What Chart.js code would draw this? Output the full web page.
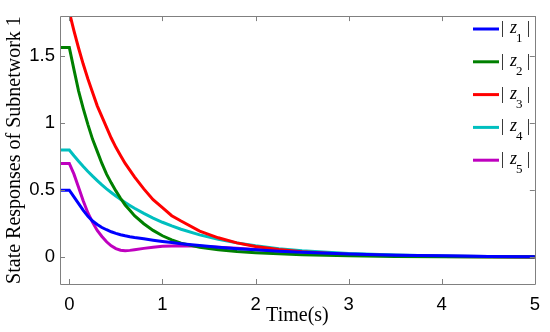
<!DOCTYPE html>
<html><head><meta charset="utf-8">
<style>html,body{margin:0;padding:0;background:#fff;}</style>
<script src="https://cdn.jsdelivr.net/npm/chart.js@4/dist/chart.umd.min.js"></script>
</head><body>
<canvas id="c" width="550" height="332"></canvas>
<script>
const times = [-0.1, 0, 0.05, 0.1, 0.15, 0.2, 0.25, 0.3, 0.35, 0.4, 0.45, 0.5, 0.55, 0.6, 0.65, 0.7, 0.8, 0.9, 1.0, 1.1, 1.2, 1.4, 1.6, 1.8, 2.0, 2.25, 2.5, 3, 3.5, 4, 4.5, 5];
const z1 = [0.5, 0.5, 0.45, 0.40, 0.35, 0.305, 0.27, 0.245, 0.222, 0.205, 0.19, 0.178, 0.168, 0.16, 0.153, 0.147, 0.137, 0.127, 0.118, 0.109, 0.101, 0.087, 0.075, 0.064, 0.055, 0.045, 0.037, 0.024, 0.015, 0.01, 0.006, 0.004];
const z2 = [1.566, 1.566, 1.40, 1.24, 1.11, 0.99, 0.88, 0.79, 0.70, 0.62, 0.555, 0.495, 0.44, 0.39, 0.35, 0.31, 0.25, 0.20, 0.16, 0.13, 0.105, 0.075, 0.055, 0.042, 0.033, 0.025, 0.018, 0.01, 0.006, 0.003, 0.002, 0.001];
const z3 = [1.83, 1.83, 1.69, 1.56, 1.44, 1.33, 1.23, 1.13, 1.05, 0.97, 0.89, 0.82, 0.76, 0.70, 0.65, 0.60, 0.51, 0.43, 0.37, 0.31, 0.27, 0.195, 0.145, 0.107, 0.08, 0.057, 0.04, 0.021, 0.011, 0.006, 0.003, 0.002];
const z4 = [0.8, 0.8, 0.757, 0.716, 0.677, 0.64, 0.605, 0.572, 0.54, 0.51, 0.483, 0.457, 0.432, 0.408, 0.386, 0.365, 0.327, 0.292, 0.261, 0.234, 0.209, 0.167, 0.134, 0.107, 0.085, 0.064, 0.049, 0.028, 0.016, 0.009, 0.005, 0.003];
const z5 = [0.7, 0.7, 0.62, 0.52, 0.42, 0.33, 0.26, 0.2, 0.155, 0.115, 0.085, 0.064, 0.052, 0.049, 0.051, 0.056, 0.066, 0.075, 0.081, 0.084, 0.085, 0.082, 0.075, 0.066, 0.057, 0.047, 0.038, 0.024, 0.015, 0.009, 0.005, 0.003];
const seriesSubs = ['1', '2', '3', '4', '5'];
const seriesColors = ['#0000ff', '#008000', '#ff0000', '#00bfbf', '#bf00bf'];
const xTicks = [0, 1, 2, 3, 4, 5];
const yTicks = [0, 0.5, 1, 1.5];
const xTitle = 'Time(s)';
const yTitle = 'State Responses of Subnetwork 1';

const allSeries = [z1, z2, z3, z4, z5];
const datasets = allSeries.map((s, i) => ({
  label: '|z' + seriesSubs[i] + '|',
  data: times.map((t, k) => ({x: t, y: s[k]})),
  borderColor: seriesColors[i],
  backgroundColor: seriesColors[i],
  borderWidth: 3,
  pointRadius: 0,
  tension: 0,
  fill: false
}));

const framePlugin = {
  id: 'frame',
  afterDatasetsDraw(chart) {
    const {ctx, chartArea: a, scales: {x, y}} = chart;
    ctx.save();
    ctx.strokeStyle = '#808080';
    ctx.lineWidth = 1;
    ctx.beginPath();
    ctx.rect(Math.round(a.left) + 0.5, Math.round(a.top) + 0.5, Math.round(a.right - a.left), Math.round(a.bottom - a.top));
    const tl = 5;
    xTicks.forEach(v => {
      const px = Math.round(x.getPixelForValue(v)) + 0.5;
      ctx.moveTo(px, a.bottom); ctx.lineTo(px, a.bottom - tl);
      ctx.moveTo(px, a.top); ctx.lineTo(px, a.top + tl);
    });
    yTicks.forEach(v => {
      const py = Math.round(y.getPixelForValue(v)) + 0.5;
      ctx.moveTo(a.left, py); ctx.lineTo(a.left + tl, py);
      ctx.moveTo(a.right, py); ctx.lineTo(a.right - tl, py);
    });
    ctx.stroke();
    ctx.restore();
  }
};

const legendPlugin = {
  id: 'mlegend',
  afterDraw(chart) {
    const {ctx} = chart;
    ctx.save();
    chart.data.datasets.forEach((ds, i) => {
      const cy = 29 + i * 32.8;
      ctx.strokeStyle = ds.borderColor;
      ctx.lineWidth = 3;
      ctx.beginPath();
      ctx.moveTo(473, cy); ctx.lineTo(499, cy);
      ctx.stroke();
      ctx.fillStyle = '#000';
      ctx.textBaseline = 'alphabetic';
      ctx.textAlign = 'left';
      ctx.font = '16px "Liberation Serif"';
      ctx.fillText('|', 501, cy + 4);
      ctx.fillText('|', 527, cy + 4);
      ctx.font = 'italic 18px "Liberation Serif"';
      ctx.fillText('z', 510, cy + 4);
      ctx.font = '13px "Liberation Serif"';
      ctx.fillText(seriesSubs[i], 516, cy + 13);
    });
    ctx.restore();
  }
};

const tickFont = {family: '"Liberation Sans", Arial, sans-serif', size: 18.5};
const titleFont = {family: '"Liberation Serif", "Times New Roman", serif', size: 20};

new Chart(document.getElementById('c'), {
  type: 'line',
  data: {datasets},
  options: {
    responsive: false,
    animation: false,
    events: [],
    layout: {padding: {top: 7, right: 12, left: 0, bottom: 0}},
    plugins: {legend: {display: false}, tooltip: {enabled: false}},
    scales: {
      x: {
        type: 'linear', min: -0.1, max: 5,
        grid: {display: false, drawTicks: false},
        border: {display: false},
        afterBuildTicks: s => { s.ticks = xTicks.map(v => ({value: v})); },
        afterFit: s => { s.height = 48; },
        ticks: {font: tickFont, color: '#000', padding: 10, maxRotation: 0, callback: v => String(v)},
        title: {display: true, text: xTitle, font: titleFont, color: '#000', padding: {top: 0, bottom: 4}}
      },
      y: {
        type: 'linear', min: -0.2, max: 1.8,
        grid: {display: false, drawTicks: false},
        border: {display: false},
        afterBuildTicks: s => { s.ticks = yTicks.map(v => ({value: v})); },
        afterFit: s => { s.width = 60; },
        ticks: {font: tickFont, color: '#000', padding: 5, callback: v => String(v)},
        title: {display: true, text: yTitle, font: titleFont, color: '#000', padding: {top: 2.5, bottom: 0}}
      }
    }
  },
  plugins: [framePlugin, legendPlugin]
});
</script>
</body></html>
